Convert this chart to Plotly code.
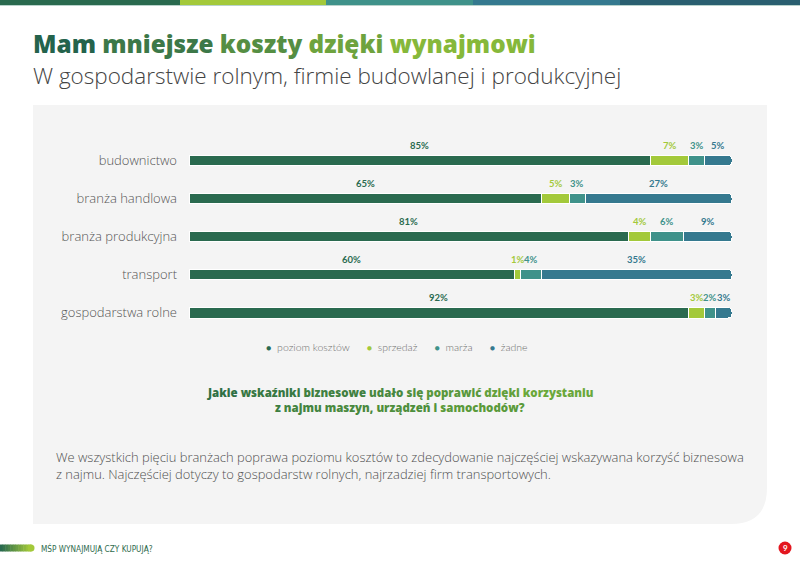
import plotly.graph_objects as go

# ---------------- data ----------------
categories = ["budownictwo", "branża handlowa", "branża produkcyjna", "transport", "gospodarstwa rolne"]
series_names = ["poziom kosztów", "sprzedaż", "marża", "żadne"]
poziom_kosztow = [85, 65, 81, 60, 92]
sprzedaz = [7, 5, 4, 1, 3]
marza = [3, 3, 6, 4, 2]
zadne = [5, 27, 9, 35, 3]
series_values = [poziom_kosztow, sprzedaz, marza, zadne]
colors = ["#2a6a4f", "#a3c93a", "#3f928a", "#35798f"]

W, H = 800, 565


def px(x):
    return x / W


def py(y):
    return 1 - y / H


fig = go.Figure()

for name, vals, col in zip(series_names, series_values, colors):
    fig.add_trace(go.Bar(
        y=categories, x=vals, name=name, orientation="h",
        marker=dict(color=col, line=dict(color="white", width=1)),
        width=0.27, showlegend=False, hoverinfo="skip",
    ))

# value labels above each segment
annotations = []
for i, cat in enumerate(categories):
    cum = 0
    for vals, col in zip(series_values, colors):
        v = vals[i]
        annotations.append(dict(
            x=cum + v / 2, y=cat, xref="x", yref="y", text=f"{v}%",
            showarrow=False, yshift=15,
            font=dict(family="Lato", size=9.5, color=col, weight=700),
        ))
        cum += v

# legend (manual, centered)
gap = "&nbsp;" * 6
legend_parts = []
for name, col in zip(series_names, colors):
    legend_parts.append(f"<span style='color:{col};font-size:9px'>●</span>&nbsp;&nbsp;{name}")
annotations.append(dict(
    x=px(397), y=py(347), xref="paper", yref="paper", text=gap.join(legend_parts),
    showarrow=False, xanchor="center", yanchor="middle",
    font=dict(family="Lato", size=10.5, color="#707070", weight=300),
))


def grad_words(text, c1, c2):
    def hx(c):
        return [int(c[i:i + 2], 16) for i in (1, 3, 5)]
    a, b = hx(c1), hx(c2)
    words = text.split(" ")
    n = max(len(words) - 1, 1)
    out = []
    for k, w in enumerate(words):
        t = k / n
        rgb = [round(a[j] + (b[j] - a[j]) * t) for j in range(3)]
        out.append(f"<span style='color:rgb({rgb[0]},{rgb[1]},{rgb[2]})'>{w}</span>")
    return " ".join(out)


# title and subtitle
annotations.append(dict(
    x=px(31), y=py(43.5), xref="paper", yref="paper",
    text=grad_words("Mam mniejsze koszty dzięki wynajmowi", "#24634c", "#86b83a"),
    showarrow=False, xanchor="left", yanchor="middle",
    font=dict(family="Open Sans", size=24.3, weight=800),
))
annotations.append(dict(
    x=px(31), y=py(75.5), xref="paper", yref="paper",
    text="W gospodarstwie rolnym, firmie budowlanej i produkcyjnej",
    showarrow=False, xanchor="left", yanchor="middle",
    font=dict(family="Open Sans", size=22.5, color="#444444", weight=300),
))

# question
annotations.append(dict(
    x=px(400), y=py(392), xref="paper", yref="paper",
    text=grad_words("Jakie wskaźniki biznesowe udało się poprawić dzięki korzystaniu", "#2f7044", "#6aa83a"),
    showarrow=False, xanchor="center", yanchor="middle",
    font=dict(family="Open Sans", size=11.5, weight=800),
))
annotations.append(dict(
    x=px(400), y=py(407), xref="paper", yref="paper",
    text=grad_words("z najmu maszyn, urządzeń i samochodów?", "#3d7e40", "#5a9a3a"),
    showarrow=False, xanchor="center", yanchor="middle",
    font=dict(family="Open Sans", size=11.5, weight=800),
))

# body text
annotations.append(dict(
    x=px(54), y=py(457), xref="paper", yref="paper",
    text="We wszystkich pięciu branżach poprawa poziomu kosztów to zdecydowanie najczęściej wskazywana korzyść biznesowa",
    showarrow=False, xanchor="left", yanchor="middle",
    font=dict(family="Open Sans", size=12.95, color="#505050", weight=300),
))
annotations.append(dict(
    x=px(54), y=py(474), xref="paper", yref="paper",
    text="z najmu. Najczęściej dotyczy to gospodarstw rolnych, najrzadziej firm transportowych.",
    showarrow=False, xanchor="left", yanchor="middle",
    font=dict(family="Open Sans", size=12.95, color="#505050", weight=300),
))

# footer
annotations.append(dict(
    x=px(39), y=py(548), xref="paper", yref="paper",
    text="MŚP WYNAJMUJĄ CZY KUPUJĄ?",
    showarrow=False, xanchor="left", yanchor="middle",
    font=dict(family="Liberation Sans Narrow, DejaVu Sans Condensed", size=8.2, color="#2f6b4e"),
))
annotations.append(dict(
    x=px(785), y=py(548), xref="paper", yref="paper", text="<b>9</b>",
    showarrow=False, xanchor="center", yanchor="middle",
    font=dict(family="Lato", size=8, color="white"),
))

shapes = []
# panel with rounded bottom-right corner
r = 36
shapes.append(dict(
    type="path", xref="paper", yref="paper", layer="below",
    path=(f"M {px(33)},{py(105)} L {px(767)},{py(105)} L {px(767)},{py(524 - r)} "
          f"Q {px(767)},{py(524)} {px(767 - r)},{py(524)} L {px(33)},{py(524)} Z"),
    fillcolor="#f4f4f4", line=dict(width=0),
))
# top colour strip
top_segments = [(0, 180, "#2a6a4f"), (180, 326, "#a3c93a"), (326, 473, "#3f928a"),
                (473, 620, "#35798f"), (620, 800, "#2a5f70")]
for x0, x1, c in top_segments:
    shapes.append(dict(type="rect", xref="paper", yref="paper", x0=px(x0), x1=px(x1),
                       y0=py(5), y1=py(0), fillcolor=c, line=dict(width=0)))
shapes.append(dict(type="rect", xref="paper", yref="paper", x0=0, x1=1,
                   y0=py(6), y1=py(5), fillcolor="#b9d3cc", line=dict(width=0)))
# footer gradient bar
n = 12
c1, c2 = (42, 106, 79), (163, 201, 58)
for k in range(n):
    t = k / (n - 1)
    c = tuple(round(c1[j] + (c2[j] - c1[j]) * t) for j in range(3))
    shapes.append(dict(type="rect", xref="paper", yref="paper",
                       x0=px(k * 31 / n), x1=px((k + 1) * 31 / n + 0.5),
                       y0=py(551.5), y1=py(544.5), fillcolor=f"rgb{c}", line=dict(width=0)))
shapes.append(dict(type="circle", xref="paper", yref="paper",
                   x0=px(27.5), x1=px(34.5), y0=py(551.5), y1=py(544.5),
                   fillcolor="rgb(163,201,58)", line=dict(width=0)))
# page number circle
shapes.append(dict(type="circle", xref="paper", yref="paper",
                   x0=px(778.5), x1=px(791.5), y0=py(554.5), y1=py(541.5),
                   fillcolor="#e3161f", line=dict(width=0)))

fig.update_layout(
    width=W, height=H, margin=dict(l=0, r=0, t=0, b=0),
    barmode="stack", barcornerradius=4,
    paper_bgcolor="white", plot_bgcolor="rgba(0,0,0,0)",
    xaxis=dict(domain=[px(189), px(732)], range=[0, 100], visible=False, fixedrange=True),
    yaxis=dict(domain=[py(335.4), py(141.6)], autorange="reversed",
               showgrid=False, zeroline=False, showline=False,
               ticks="", ticklabelstandoff=11,
               tickfont=dict(family="Open Sans", size=13, color="#555555", weight=300)),
    annotations=annotations, shapes=shapes,
    showlegend=False,
)

fig.write_html("out.html", config={"displayModeBar": False},
               post_script="document.body.style.margin='0';document.body.style.overflow='hidden';")
